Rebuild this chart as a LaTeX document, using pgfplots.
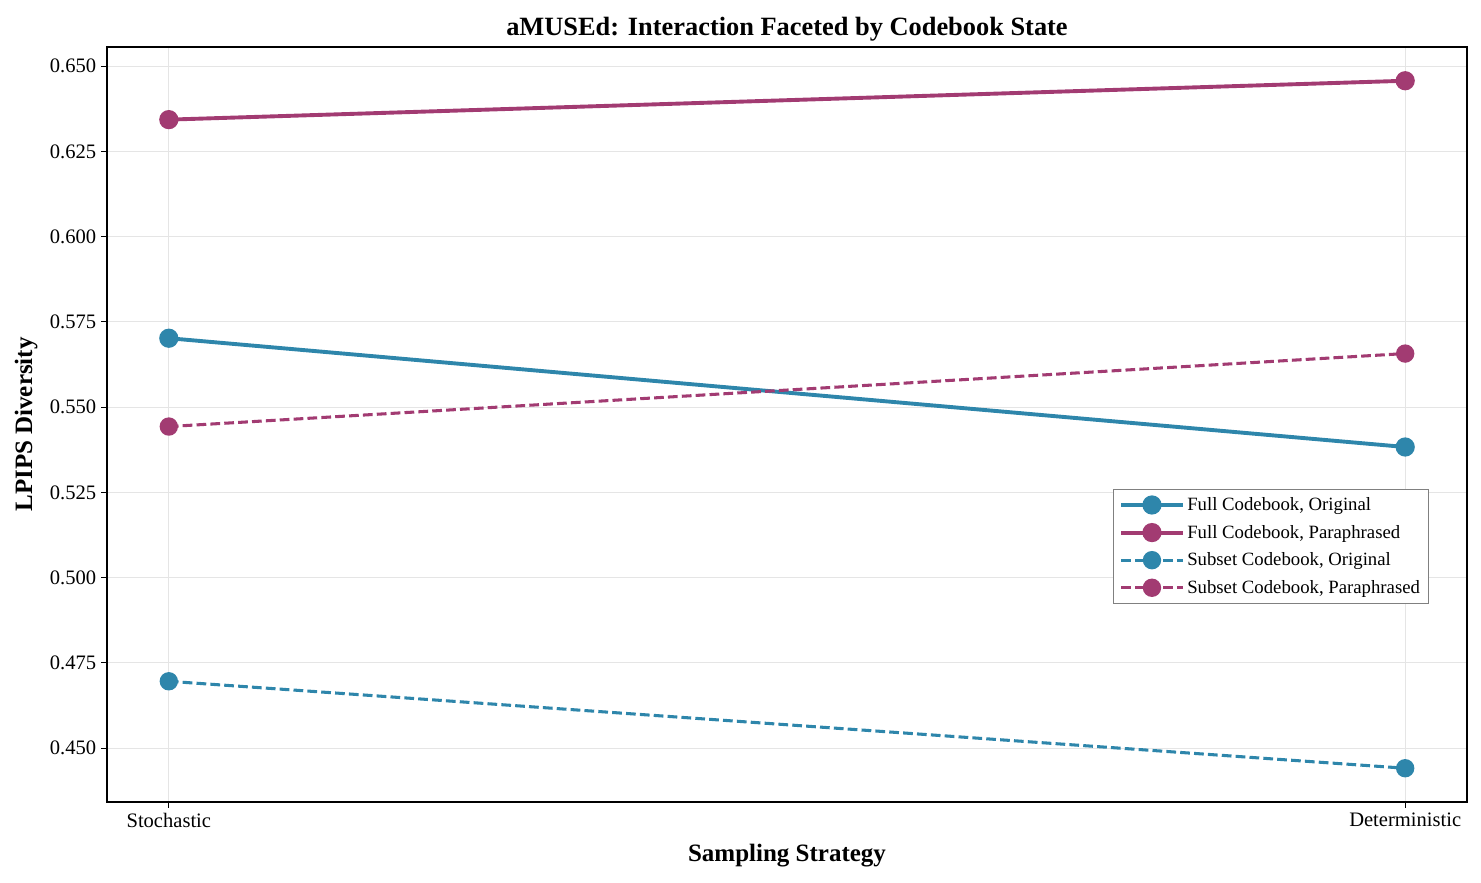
\documentclass[border=0pt]{standalone}
\usepackage{fontspec}
\setmainfont{Liberation Serif}
\usepackage{pgfplots}
\pgfplotsset{compat=1.18}
\definecolor{cblue}{HTML}{2E86AB}
\definecolor{cpurp}{HTML}{A23B72}
\begin{document}
\begin{tikzpicture}
\useasboundingbox (-77.04pt,-57.6pt) rectangle (989.28pt,577.44pt);
\begin{axis}[
  at={(0,0)}, anchor=south west,
  scale only axis, width=979.2pt, height=543.6pt,
  xmin=-0.05, xmax=1.05, ymin=0.4342, ymax=0.6556,
  xtick={0,1}, xticklabels={Stochastic,Deterministic},
  ytick={0.45,0.475,0.5,0.525,0.55,0.575,0.6,0.625,0.65},
  yticklabel style={/pgf/number format/.cd,fixed,fixed zerofill,precision=3},
  /pgf/number format/assume math mode=true,
  tick align=outside, tick pos=left,
  major tick length=4.3pt,
  every tick/.style={black, line width=0.8pt},
  grid=major, grid style={gray!20, line width=0.8pt},
  axis line style={line width=1pt},
  ticklabel style={font=\fontsize{14.8}{16}\selectfont},
  title={\textbf{aMUSEd: Interaction Faceted by Codebook State}},
  title style={font=\fontsize{19}{21}\selectfont, yshift=-5pt},
  xlabel={\textbf{Sampling Strategy}},
  ylabel={\textbf{LPIPS Diversity}},
  label style={font=\fontsize{18}{20}\selectfont},
  xlabel style={yshift=-5pt},
  ylabel style={yshift=2pt},
  legend style={at={(0.972,0.262)}, anchor=south east, draw=gray, line width=0.8pt, font=\fontsize{13.5}{15}\selectfont, row sep=5pt, inner sep=4pt},
  legend cell align=left,
  legend image code/.code={\draw[#1] (0pt,0pt) -- (22pt,0pt) -- (44pt,0pt); \path[#1, solid] plot coordinates {(22pt,0pt)};},
]
\addplot[cblue, line width=2.8pt, mark=*, mark size=5.5pt, mark options={solid}] coordinates {(0,0.5702) (1,0.5383)};
\addlegendentry{Full Codebook, Original}
\addplot[cpurp, line width=2.8pt, mark=*, mark size=5.5pt, mark options={solid}] coordinates {(0,0.6343) (1,0.6457)};
\addlegendentry{Full Codebook, Paraphrased}
\addplot[cblue, line width=2.2pt, dash pattern=on 7pt off 3pt, mark=*, mark size=5.5pt, mark options={solid}] coordinates {(0,0.4696) (1,0.4441)};
\addlegendentry{Subset Codebook, Original}
\addplot[cpurp, line width=2.2pt, dash pattern=on 7pt off 3pt, mark=*, mark size=5.5pt, mark options={solid}] coordinates {(0,0.5443) (1,0.5657)};
\addlegendentry{Subset Codebook, Paraphrased}
\end{axis}
\end{tikzpicture}
\end{document}
